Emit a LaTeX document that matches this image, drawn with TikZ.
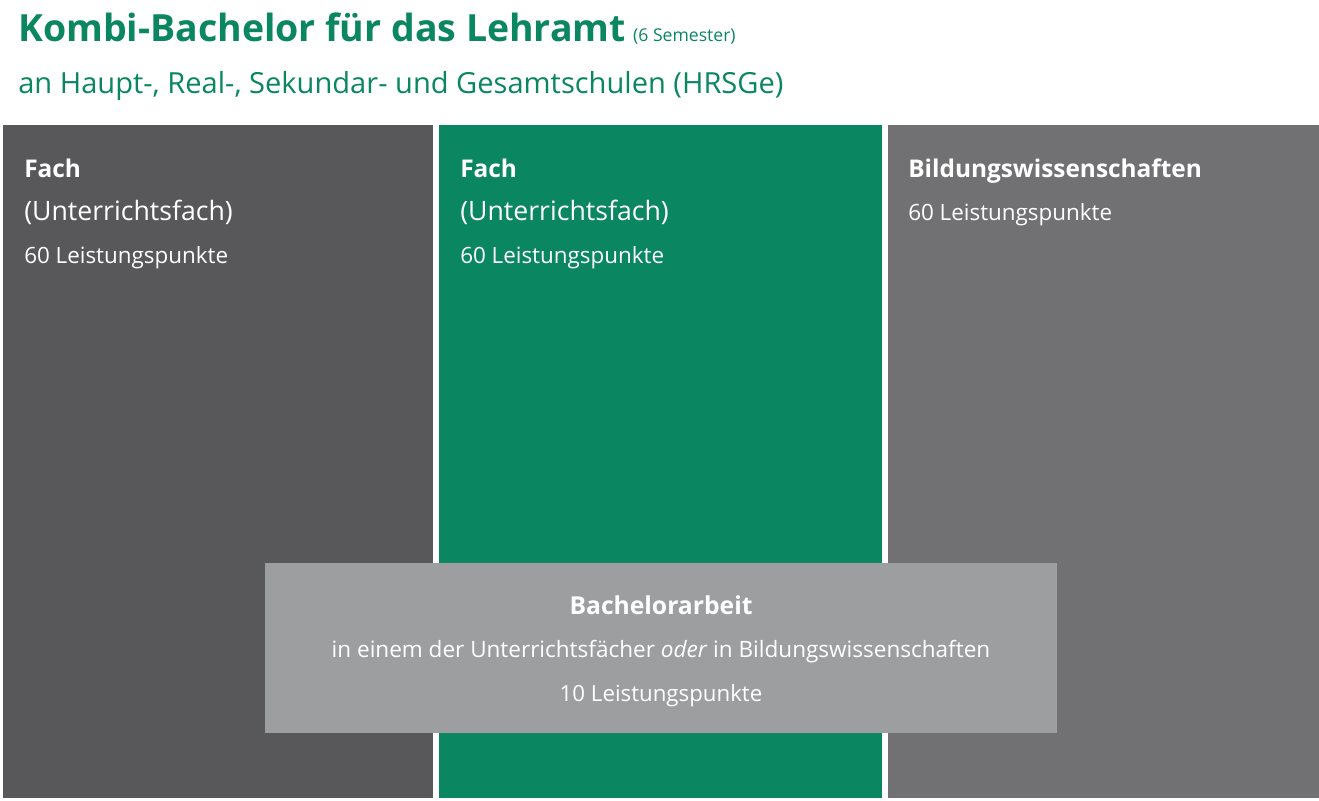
\documentclass[tikz,border=0pt]{standalone}
\usepackage{fontspec}
\setmainfont{Open Sans}
\definecolor{kgreen}{HTML}{0A8661}
\definecolor{kdark}{HTML}{58585A}
\definecolor{kmid}{HTML}{717173}
\definecolor{klight}{HTML}{9D9EA0}
\tikzset{col/.style = {fill = #1,anchor = north west,inner sep = 0pt,minimum height = 673*0.75pt},
txt/.style = {anchor = base west,inner sep = 0pt,text = white},
head/.style = {txt,font = \bfseries\fontsize{18.3}{21}\selectfont},
sub/.style = {txt,font = \fontsize{20}{23}\selectfont},
lp/.style = {txt,font = \fontsize{16.8}{19}\selectfont}}

\begin{document}
\begin{tikzpicture}[x = 0.75pt,y = -0.75pt]
\useasboundingbox (0,0) rectangle (1319,800);
\node[txt,text = kgreen,font = \bfseries\fontsize{28.1}{31}\selectfont] (title) at (18,41) {Kombi-Bachelor für das Lehramt};
\node[txt,text = kgreen,font = \fontsize{13.2}{15}\selectfont,anchor = base west] (sem) at ([xshift = 5pt]title.base east) {(6 Semester)};
\node[txt,text = kgreen,font = \fontsize{21.8}{25}\selectfont] (untertitel) at (18,93) {an Haupt-, Real-, Sekundar- und Gesamtschulen (HRSGe)};

\node[col = kdark,minimum width = 430*0.75pt] (fach1) at (3,125) {};
\node[col = kgreen,minimum width = 443*0.75pt] (fach2) at (439,125) {};
\node[col = kmid,minimum width = 431*0.75pt] (bw) at (888,125) {};

\node[head] (f1a) at (24,177) {Fach};
\node[sub] (f1b) at (24,220) {(Unterrichtsfach)};
\node[lp] (f1c) at (24,263) {60 Leistungspunkte};

\node[head] (f2a) at (460,177) {Fach};
\node[sub] (f2b) at (460,220) {(Unterrichtsfach)};
\node[lp] (f2c) at (460,263) {60 Leistungspunkte};

\node[head] (bwa) at (908,177) {Bildungswissenschaften};
\node[lp] (bwb) at (908,220) {60 Leistungspunkte};

\node[fill = klight,anchor = north west,inner sep = 0pt,minimum width = 792*0.75pt,minimum height = 170*0.75pt] (ba) at (265,563) {};
\node[txt,anchor = base,font = \bfseries\fontsize{18.5}{21}\selectfont] (baa) at (661,614) {Bachelorarbeit};
\node[txt,anchor = base,font = \fontsize{16.9}{19}\selectfont] (bab) at (661,657) {in einem der Unterrichtsfächer \textit{oder} in Bildungswissenschaften};
\node[txt,anchor = base,font = \fontsize{16.7}{19}\selectfont] (bac) at (661,701) {10 Leistungspunkte};
\end{tikzpicture}
\end{document}
